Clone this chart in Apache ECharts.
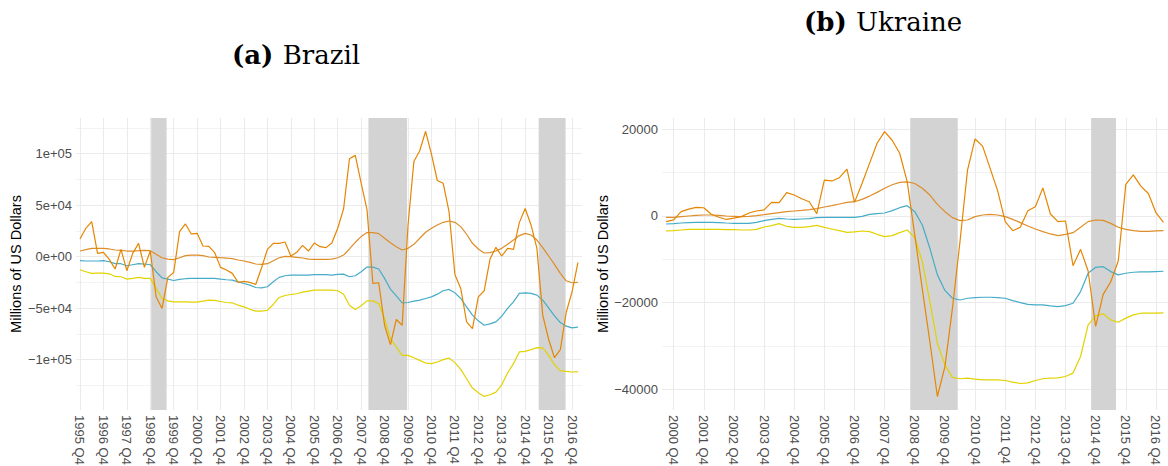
<!DOCTYPE html>
<html><head><meta charset="utf-8">
<script src="https://cdn.jsdelivr.net/npm/echarts@6/dist/echarts.min.js"></script>
<style>html,body{margin:0;padding:0;background:#fff}#c{width:1168px;height:466px}</style>
</head><body><div id="c"></div>
<script>
// ---------------- DATA ----------------
const brazilStartQuarter = '1995 Q4';
const brazilRaw = [
  17200, 27600, 34100, 3250, 4200, -2600, -12000, 7100, -13600, 3200,
  13000, -10400, 5500, -39000, -50300, -20100, -15300, 24400, 31800, 22100,
  22700, 10400, 10100, 3900, -10400, -13000, -16200, -25000, -24000, -25000,
  -27000, -10700, 7100, 13000, 13000, 14300, 650, 4200, 11000, 5500,
  13300, 9700, 8800, 13300, 27600, 46400, 95100, 98400, 71400, 45500,
  -26000, -25300, -66600, -85400, -61000, -66600, 30800, 92500, 102900, 121800,
  99700, 74000, 71400, 43800, -17200, -30800, -63300, -69800, -39000, -33100,
  -2300, 9100, 650, 8100, 7100, 33100, 46800, 30800, 8100, -56800,
  -80200, -98100, -90300, -54200, -34100, -5800
];
const brazilTrend = [
  5500, 6800, 8100, 8100, 8100, 7500, 6500, 6200, 5500, 5500,
  5800, 6200, 5800, 2300, -1000, -2300, -2900, -1000, 1000, 1600,
  1600, 1000, -300, -650, -1000, -1300, -1900, -3200, -4200, -5500,
  -7100, -7500, -6800, -3900, -1000, 300, 0, -650, -1300, -2300,
  -2600, -2600, -2600, -2300, -1000, 1600, 7500, 14000, 19500, 23400,
  23400, 22400, 17900, 13600, 9700, 6500, 8100, 12000, 17900, 23700,
  27600, 30800, 33400, 34700, 33400, 29200, 21800, 13000, 7500, 3600,
  3900, 5500, 8100, 12000, 16200, 20500, 22700, 21100, 16200, 8800,
  650, -7500, -16200, -23400, -25300, -25000
];
const brazilBlue = [
  -3900, -4200, -4200, -4200, -3900, -4900, -6800, -6800, -8800, -7800,
  -6800, -7100, -7800, -14600, -20500, -21800, -23100, -22100, -21400, -21100,
  -21100, -21100, -21100, -21100, -21800, -22400, -22700, -24400, -26000, -27600,
  -29900, -30200, -29200, -24400, -20100, -18500, -17900, -17900, -17900, -17900,
  -17500, -17500, -17500, -17900, -17200, -16900, -19500, -18500, -14600, -10100,
  -10100, -12000, -21100, -31500, -38000, -44800, -44500, -43200, -42200, -40600,
  -39000, -36400, -33100, -31800, -35100, -40600, -48700, -56800, -62300, -66600,
  -65300, -63300, -57800, -50300, -43800, -35700, -35100, -35700, -37300, -42200,
  -49700, -57500, -64000, -67500, -69200, -68500
];
const brazilYellow = [
  -12700, -14600, -16200, -15900, -15900, -16600, -19200, -19500, -21800, -21100,
  -20100, -21100, -21100, -30800, -40600, -42900, -43800, -43800, -43800, -44200,
  -44200, -43200, -42200, -42500, -43500, -44500, -44800, -47100, -48700, -51000,
  -52900, -52900, -52000, -46400, -39600, -37700, -36700, -36000, -34400, -33400,
  -32500, -32500, -32500, -32500, -33100, -36400, -47100, -51300, -47700, -42900,
  -42900, -45500, -60100, -79600, -87700, -95800, -95800, -98100, -100700, -103300,
  -103900, -102300, -100000, -98400, -102900, -109400, -118500, -127600, -132200, -135700,
  -134100, -131500, -124400, -113000, -103900, -92500, -91900, -90300, -88300, -88600,
  -95800, -104900, -110700, -111400, -112000, -111700
];
const brazilRecessions = [[1998.79, 1999.445], [2008.06, 2009.71], [2015.325, 2016.475]];
const brazilXTicks = ['1995 Q4','1996 Q4','1997 Q4','1998 Q4','1999 Q4','2000 Q4','2001 Q4','2002 Q4',
  '2003 Q4','2004 Q4','2005 Q4','2006 Q4','2007 Q4','2008 Q4','2009 Q4','2010 Q4','2011 Q4','2012 Q4',
  '2013 Q4','2014 Q4','2015 Q4','2016 Q4'];
const brazilYTicks = [-100000, -50000, 0, 50000, 100000];
const brazilYLabels = ['\u22121e+05', '\u22125e+04', '0e+00', '5e+04', '1e+05'];
const brazilYMinor = [-125000, -75000, -25000, 25000, 75000, 125000];

const ukraineStartQuarter = '2000 Q3';
const ukraineRaw = [
  -1300, -900, 1000, 1600, 2000, 1900, 400, -300, -800, -500,
  -150, 700, 1150, 1400, 3150, 3100, 5400, 4850, 4000, 3300,
  540, 8300, 8100, 8850, 10850, 3150, 7500, 12150, 16800, 19500,
  17500, 14500, 7900, -4400, -16900, -29000, -41700, -34800, -21300, -5900,
  10600, 17800, 16150, 11000, 5800, -1300, -3400, -2600, 1200, 2150,
  6500, 460, -1300, -1150, -11500, -7700, -12700, -25500, -18100, -15200,
  -10400, 7300, 9500, 6900, 5200, 770, -1500
];
const ukraineTrend = [
  -300, -300, -150, 0, 150, 230, 230, 150, 0, -80,
  -150, -80, 80, 300, 540, 770, 1000, 1150, 1300, 1460,
  1700, 2080, 2380, 2770, 3150, 3300, 3850, 4600, 5460, 6400,
  7230, 7770, 7900, 7500, 6400, 4850, 2700, 1000, -380, -1080,
  -920, -150, 230, 380, 230, -150, -770, -1540, -2300, -3000,
  -3600, -4150, -4540, -4230, -3850, -2600, -1300, -920, -1000, -1700,
  -2600, -3080, -3380, -3540, -3540, -3460, -3380
];
const ukraineBlue = [
  -1850, -1770, -1620, -1540, -1460, -1460, -1460, -1540, -1620, -1690,
  -1690, -1690, -1460, -1080, -770, -540, -690, -770, -690, -620,
  -380, -310, -310, -310, -310, -310, -80, 380, 540, 690,
  1230, 1920, 2380, 1000, -2080, -7460, -13600, -17200, -19000, -19400,
  -19000, -18850, -18770, -18770, -18850, -19000, -19540, -20000, -20400, -20540,
  -20540, -20770, -20920, -20700, -20150, -17460, -13230, -11850, -11700, -12850,
  -13600, -13230, -13000, -12920, -12920, -12850, -12770
];
const ukraineYellow = [
  -3460, -3380, -3230, -3080, -3080, -3080, -3080, -3080, -3150, -3150,
  -3230, -3230, -3080, -2540, -2230, -1770, -2380, -2620, -2620, -2460,
  -2150, -2620, -3000, -3380, -3770, -3690, -3460, -3620, -4230, -4770,
  -4540, -3850, -3230, -5000, -10540, -19770, -29400, -34400, -37300, -37600,
  -37460, -37700, -37850, -37850, -37850, -38000, -38380, -38700, -38540, -38000,
  -37600, -37460, -37380, -37080, -36300, -32460, -25150, -23080, -22600, -24000,
  -24540, -23600, -22850, -22460, -22460, -22460, -22380
];
const ukraineRecessions = [[2008.6, 2010.175], [2014.6, 2015.425]];
const ukraineXTicks = ['2000 Q4','2001 Q4','2002 Q4','2003 Q4','2004 Q4','2005 Q4','2006 Q4','2007 Q4',
  '2008 Q4','2009 Q4','2010 Q4','2011 Q4','2012 Q4','2013 Q4','2014 Q4','2015 Q4','2016 Q4'];
const ukraineYTicks = [-40000, -20000, 0, 20000];
const ukraineYLabels = ['\u221240000', '\u221220000', '0', '20000'];
const ukraineYMinor = [-30000, -10000, 10000];

// ---------------- HELPERS ----------------
function quarterToX(label) { const p = label.split(' Q'); return +p[0] + (+p[1] - 1) / 4; }
function quarterSeq(start, n) {
  const p = start.split(' Q').map(Number); let y = p[0], q = p[1]; const out = [];
  for (let i = 0; i < n; i++) { out.push(y + ' Q' + q); q++; if (q > 4) { q = 1; y++; } }
  return out;
}
function pairs(start, values) {
  const qs = quarterSeq(start, values.length);
  return values.map((v, i) => [quarterToX(qs[i]), v]);
}
function lookup(vals, labels) {
  return function (v) {
    let best = 0; for (let i = 1; i < vals.length; i++) if (Math.abs(vals[i] - v) < Math.abs(vals[best] - v)) best = i;
    return labels[best];
  };
}

const COLORS = { raw: '#E58601', trend: '#DD8D29', blue: '#46ACC8', yellow: '#E2D200' };
const AX_FONT = 'Liberation Sans, Arial, sans-serif';
const GRID_COL = '#EBEBEB';

function xAxisCfg(g, ticks, min, max) {
  const vals = ticks.map(quarterToX);
  return {
    type: 'value', gridIndex: g, min: min, max: max,
    axisLine: { show: false }, axisTick: { show: false, customValues: vals },
    axisLabel: { customValues: vals, rotate: -90, margin: 5, color: '#4D4D4D', fontSize: 13, fontFamily: AX_FONT,
      formatter: lookup(vals, ticks) },
    splitLine: { show: true, lineStyle: { color: GRID_COL, width: 1.1 } }
  };
}
function yAxisMajor(g, ticks, labels, min, max) {
  return {
    type: 'value', gridIndex: g, min: min, max: max,
    axisLine: { show: false }, axisTick: { show: false, customValues: ticks },
    axisLabel: { customValues: ticks, margin: 4, color: '#4D4D4D', fontSize: 13, fontFamily: AX_FONT,
      formatter: lookup(ticks, labels) },
    splitLine: { show: true, lineStyle: { color: GRID_COL, width: 1.1 } },
    name: 'Millions of US Dollars', nameLocation: 'middle', nameGap: 51,
    nameTextStyle: { color: '#000', fontSize: 14.5, fontFamily: AX_FONT }
  };
}
function yAxisMinor(g, ticks, min, max) {
  return {
    type: 'value', gridIndex: g, min: min, max: max, position: 'left',
    axisLine: { show: false }, axisTick: { show: false, customValues: ticks },
    axisLabel: { show: false, customValues: ticks },
    splitLine: { show: true, lineStyle: { color: GRID_COL, width: 0.6 } }
  };
}
function lineSeries(xi, yi, start, values, color, extra) {
  return Object.assign({
    type: 'line', xAxisIndex: xi, yAxisIndex: yi, data: pairs(start, values),
    showSymbol: false, symbol: 'none', silent: true, animation: false,
    lineStyle: { color: color, width: 1.2 }, itemStyle: { color: color }, z: 3
  }, extra || {});
}
function shadeArea(rec) {
  return { silent: true, itemStyle: { color: '#D3D3D3', opacity: 1 },
    data: rec.map(r => [{ xAxis: r[0] }, { xAxis: r[1] }]) };
}
const TITLE_RICH = {
  b: { fontFamily: 'DejaVu Serif', fontWeight: 'bold', fontSize: 26, fill: '#000', padding: [0, 6, 0, 0] },
  n: { fontFamily: 'DejaVu Serif', fontSize: 26, fill: '#000' }
};

const chart = echarts.init(document.getElementById('c'), null, { renderer: 'svg', width: 1168, height: 466 });
chart.setOption({
  animation: false,
  backgroundColor: '#fff',
  grid: [
    { left: 76, top: 118, width: 506, height: 292, outerBoundsMode: 'none', containLabel: false },
    { left: 662, top: 118, width: 506, height: 292, outerBoundsMode: 'none', containLabel: false }
  ],
  xAxis: [
    xAxisCfg(0, brazilXTicks, 1995.58, 2017.175),
    xAxisCfg(1, ukraineXTicks, 2000.365, 2017.15)
  ],
  yAxis: [
    yAxisMajor(0, brazilYTicks, brazilYLabels, -148900, 134700),
    yAxisMinor(0, brazilYMinor, -148900, 134700),
    yAxisMajor(1, ukraineYTicks, ukraineYLabels, -44820, 22640),
    yAxisMinor(1, ukraineYMinor, -44820, 22640)
  ],
  graphic: [
    { type: 'text', x: 296, y: 55, silent: true, style: {
      text: '{b|(a)} {n|Brazil}', align: 'center', verticalAlign: 'middle', rich: TITLE_RICH } },
    { type: 'text', x: 883, y: 22, silent: true, style: {
      text: '{b|(b)} {n|Ukraine}', align: 'center', verticalAlign: 'middle', rich: TITLE_RICH } }
  ],
  series: [
    lineSeries(0, 0, brazilStartQuarter, brazilTrend, COLORS.trend, { markArea: shadeArea(brazilRecessions) }),
    lineSeries(0, 0, brazilStartQuarter, brazilBlue, COLORS.blue),
    lineSeries(0, 0, brazilStartQuarter, brazilYellow, COLORS.yellow),
    lineSeries(0, 0, brazilStartQuarter, brazilRaw, COLORS.raw),
    lineSeries(1, 2, ukraineStartQuarter, ukraineTrend, COLORS.trend, { markArea: shadeArea(ukraineRecessions) }),
    lineSeries(1, 2, ukraineStartQuarter, ukraineBlue, COLORS.blue),
    lineSeries(1, 2, ukraineStartQuarter, ukraineYellow, COLORS.yellow),
    lineSeries(1, 2, ukraineStartQuarter, ukraineRaw, COLORS.raw)
  ]
});
</script></body></html>
